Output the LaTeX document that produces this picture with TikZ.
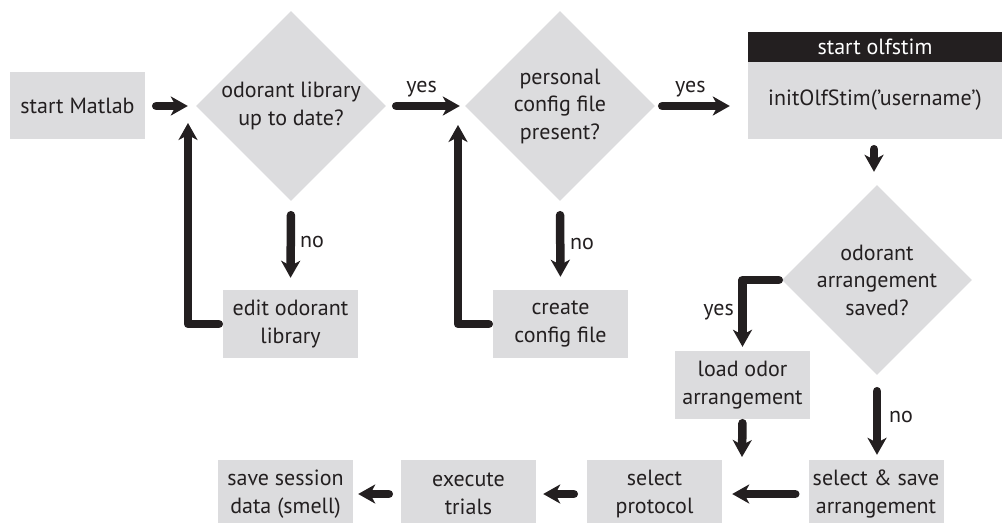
\documentclass[tikz,border=0pt]{standalone}
\usepackage{fontspec}
\setmainfont{PT Sans}
\usetikzlibrary{arrows.meta,shapes.geometric,calc}
\definecolor{boxgray}{HTML}{DCDCDE}
\definecolor{ink}{HTML}{231F20}
\begin{document}
\begin{tikzpicture}[x=1pt,y=-1pt,
  every node/.style={font=\fontsize{22}{27.5}\selectfont, text=ink},
  box/.style={fill=boxgray, minimum width=135pt, minimum height=68pt, inner sep=0pt, align=center},
  dia/.style={diamond, fill=boxgray, minimum width=190pt, minimum height=190pt, inner sep=0pt},
  txt/.style={align=center, inner sep=0pt},
  arr/.style={draw=ink, line width=8.5pt, line cap=round, line join=round,
    -{Stealth[length=17pt,width=19pt,inset=5pt]}},
  lab/.style={inner sep=0pt}
]
\useasboundingbox (0,0) rectangle (1003,522);

% nodes
\node[box, minimum height=67pt] (sm) at (77.5,105.5) {start Matlab};
\node[dia] (d1) at (291,106) {};
\node[txt] (t1) at (d1.center) {odorant library\\up to date?};
\node[dia] (d2) at (560,106) {};
\node[txt] (t2) at (d2.center) {personal\\config file\\present?};
\node[fill=boxgray, minimum width=254pt, minimum height=77pt, inner sep=0pt] (olf) at (875,100.5) {initOlfStim('username')};
\node[fill=ink, minimum width=254pt, minimum height=30pt, inner sep=0pt, text=white] (olfh) at (875,47) {start olfstim};
\node[dia] (d3) at (877,280) {};
\node[txt] (t3) at (d3.center) {odorant\\arrangement\\saved?};
\node[box] (edit) at (290.5,324) {edit odorant\\library};
\node[box] (create) at (560.5,324) {create\\config file};
\node[box] (load) at (742.5,385) {load odor\\arrangement};
\node[box] (ssa) at (876,494) {select \& save\\arrangement};
\node[box] (sp) at (654.5,494) {select\\protocol};
\node[box] (et) at (468.5,494) {execute\\trials};
\node[box] (ss) at (285.5,494) {save session\\data (smell)};

\coordinate (r1) at (188,123);
\coordinate (r2) at (458,125);
\coordinate (m1) at (742,457);

% connectors
\draw[arr, shorten <=11pt, shorten >=8pt] (sm.east |- d1.west) -- (d1.west);
\draw[arr, shorten <=10pt, shorten >=5pt] (d1.east) -- node[lab, above=5pt, pos=0.45] (y1) {yes} (d2.west);
\draw[arr, shorten <=7pt, shorten >=18pt] (d2.east) -- node[lab, above=5pt, pos=0.38] (y2) {yes} (d2.east -| olf.west);
\draw[arr, shorten <=14pt, shorten >=12pt] (d1.south) -- (edit.north);
\node[lab, anchor=west] (n1) at (300,242) {no};
\draw[arr, shorten <=4pt] (edit.west) -| (r1);
\draw[arr, shorten <=14pt, shorten >=13pt] (d2.south) -- (create.north);
\node[lab, anchor=west] (n2) at (570,244) {no};
\draw[arr, shorten <=4pt] (create.west) -| (r2);
\draw[arr, shorten <=10pt, shorten >=13pt] (olf.south -| d3.north) ++(-3,0) -- ([xshift=-3pt]d3.north);
\draw[arr, shorten <=3pt, shorten >=4pt] (d3.west) -| (load.north);
\node[lab, anchor=east] (y3) at (734,312) {yes};
\draw[arr, shorten <=16pt, shorten >=5pt] (d3.south) -- (d3.south |- ssa.north);
\node[lab, anchor=west] (n3) at (889,417) {no};
\draw[arr, shorten <=4pt] (load.south) -- (m1);
\draw[arr, shorten <=13pt, shorten >=10pt] (ssa.west) -- (sp.east);
\draw[arr, shorten <=13pt, shorten >=7pt] (sp.west) -- (et.east);
\draw[arr, shorten <=12pt, shorten >=5pt] (et.west) -- (ss.east);
\end{tikzpicture}
\end{document}
